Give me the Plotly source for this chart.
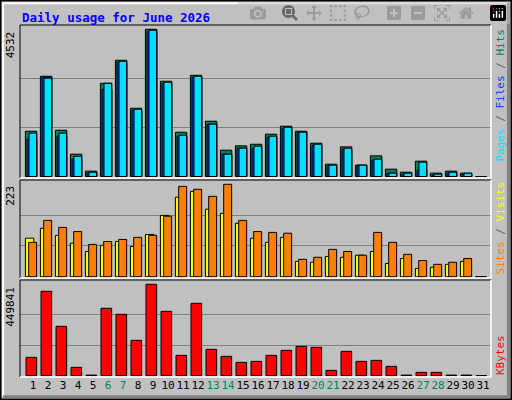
import plotly.graph_objects as go

days = list(range(1, 32))
weekend = [6, 7, 13, 14, 20, 21, 27, 28]
hits = [1394, 3086, 1425, 687, 164, 2870, 3578, 2101, 4532, 2932, 1363, 3116, 1702, 810, 943,
        994, 1302, 1548, 1394, 1025, 379, 912, 349, 636, 226, 133, 472, 103, 164, 103, 0]
files = [1333, 3024, 1333, 625, 133, 2870, 3547, 2071, 4500, 2901, 1271, 3085, 1609, 687, 871,
         933, 1240, 1517, 1363, 994, 348, 871, 348, 533, 103, 103, 441, 72, 133, 103, 0]
pages = [1148, 3054, 1240, 533, 103, 2685, 3516, 2040, 4469, 2870, 1240, 3054, 1609, 687, 871,
         871, 1209, 1486, 1363, 963, 318, 841, 348, 502, 103, 72, 195, 41, 103, 72, 0]
visits = [93, 117, 100, 81, 61, 76, 85, 73, 102, 148, 192, 206, 163, 153, 129,
          93, 83, 95, 37, 35, 49, 47, 52, 61, 32, 44, 20, 23, 30, 37, 0]
sites = [83, 136, 119, 109, 78, 85, 90, 95, 100, 146, 218, 211, 194, 223, 136,
         109, 107, 105, 42, 47, 66, 61, 52, 107, 83, 54, 39, 30, 35, 44, 0]
kbytes = [90299, 415376, 242985, 41045, 3000, 331644, 302091, 174030, 449841, 316867, 100150,
          356274, 129702, 95224, 65672, 70597, 100150, 124777, 144478, 139553, 26269, 119851,
          70597, 75523, 45970, 3000, 16418, 16418, 3000, 3000, 0]
max_hits, max_sites, max_kb = 4532, 223, 449841

C_HITS, C_FILES, C_PAGES = "#00805c", "#00e0ff", "#0040ff"
C_VIS, C_SITES, C_KB = "#ffff00", "#ff8000", "#ff0000"
MONO = "DejaVu Sans Mono"

def bar(y, color, off, w, ax):
    return go.Bar(x=days, y=y, offset=off, width=w, yaxis=ax, marker_color=color,
                  marker_line=dict(color="black", width=1), showlegend=False, hoverinfo="skip")

fig = go.Figure()
fig.add_trace(bar(hits, C_HITS, -0.51, 0.76, "y"))
fig.add_trace(bar(pages, C_PAGES, -0.40, 0.65, "y"))
fig.add_trace(bar(files, C_FILES, -0.27, 0.51, "y"))
fig.add_trace(bar(visits, C_VIS, -0.51, 0.56, "y2"))
fig.add_trace(bar(sites, C_SITES, -0.29, 0.53, "y2"))
fig.add_trace(bar(kbytes, C_KB, -0.47, 0.71, "y3"))

ticktext = [f'<span style="color:{C_HITS if d in weekend else "black"}">{d}</span>' for d in days]

def yax(dom, m, lo, hi):
    return dict(domain=dom, range=[lo, hi], anchor="x", showgrid=False, zeroline=False,
                showticklabels=False, ticks="", tickvals=[m],
                minor=dict(tickvals=[m / 3, 2 * m / 3], showgrid=True, gridcolor="#808080",
                           gridwidth=1, ticks=""))

fig.update_layout(
    width=512, height=400, margin=dict(l=0, r=0, t=0, b=0),
    paper_bgcolor="#c0c0c0", plot_bgcolor="#c0c0c0", barmode="overlay",
    xaxis=dict(domain=[20 / 512, 491 / 512], range=[0.13, 31.53], anchor="y3",
               tickvals=days, ticktext=ticktext, tickangle=0, showgrid=False, zeroline=False,
               ticks="", tickfont=dict(family=MONO, size=11, color="black")),
    yaxis=yax([0.555, 0.9375], max_hits, -46, 4664),
    yaxis2=yax([0.305, 0.55], max_sites, -3, 233.4),
    yaxis3=yax([0.0575, 0.30], max_kb, -6400, 471000),
    font=dict(family=MONO),
)

shp = []
shp.append(dict(type="rect", xref="paper", yref="paper", x0=0, x1=1, y0=0, y1=1,
                line=dict(color="black", width=3)))
shp.append(dict(type="path", xref="paper", yref="paper", path="M 0.006,0.008 L 0.006,0.992 L 0.993,0.992",
                line=dict(color="white", width=2)))
shp.append(dict(type="path", xref="paper", yref="paper", path="M 0.993,0.992 L 0.993,0.008 L 0.006,0.008",
                line=dict(color="#808080", width=3)))
for dom in ([0.555, 0.9375], [0.305, 0.55], [0.0575, 0.30]):
    x0, x1 = 20 / 512, 491 / 512
    shp.append(dict(type="path", xref="paper", yref="paper",
                    path=f"M {x0},{dom[0]} L {x0},{dom[1]} L {x1},{dom[1]}",
                    line=dict(color="black", width=1)))
    shp.append(dict(type="path", xref="paper", yref="paper",
                    path=f"M {x1},{dom[1]} L {x1},{dom[0]} L {x0},{dom[0]}",
                    line=dict(color="white", width=1.5)))
fig.update_layout(shapes=shp)

ann = [dict(text="<b>Daily usage for June 2026</b>", xref="paper", yref="paper", x=20 / 512,
            y=1 - 8 / 400, xanchor="left", yanchor="top", showarrow=False,
            font=dict(family=MONO, size=12.5, color="#0000ff"))]
for ax, m in (("y", max_hits), ("y2", max_sites), ("y3", max_kb)):
    ann.append(dict(text=str(m), xref="paper", yref=ax, x=19 / 512, y=m, xanchor="right",
                    yanchor="top", textangle=-90, showarrow=False,
                    font=dict(family=MONO, size=11, color="black")))
sl = '<span style="color:#606060"> / </span>'
ann.append(dict(text=f'<span style="color:{C_FILES}">Pages</span>{sl}<span style="color:{C_PAGES}">Files</span>{sl}<span style="color:{C_HITS}">Hits</span>',
                xref="paper", yref="paper", x=500 / 512, y=1 - 27 / 400, xanchor="center",
                yanchor="top", textangle=-90, showarrow=False, font=dict(family=MONO, size=11)))
ann.append(dict(text=f'<span style="color:{C_SITES}">Sites</span>{sl}<span style="color:{C_VIS}">Visits</span>',
                xref="paper", yref="paper", x=500 / 512, y=1 - 277 / 400, xanchor="center",
                yanchor="bottom", textangle=-90, showarrow=False, font=dict(family=MONO, size=11)))
ann.append(dict(text=f'<span style="color:{C_KB}">KBytes</span>',
                xref="paper", yref="paper", x=500 / 512, y=1 - 377 / 400, xanchor="center",
                yanchor="bottom", textangle=-90, showarrow=False, font=dict(family=MONO, size=11)))
fig.update_layout(annotations=ann)

fig.write_html("out.html")
with open("out.html", encoding="utf-8") as f:
    html = f.read()
html = html.replace("<head>", "<head><style>html,body{margin:0;padding:0;overflow:hidden;}</style>", 1)
with open("out.html", "w", encoding="utf-8") as f:
    f.write(html)
